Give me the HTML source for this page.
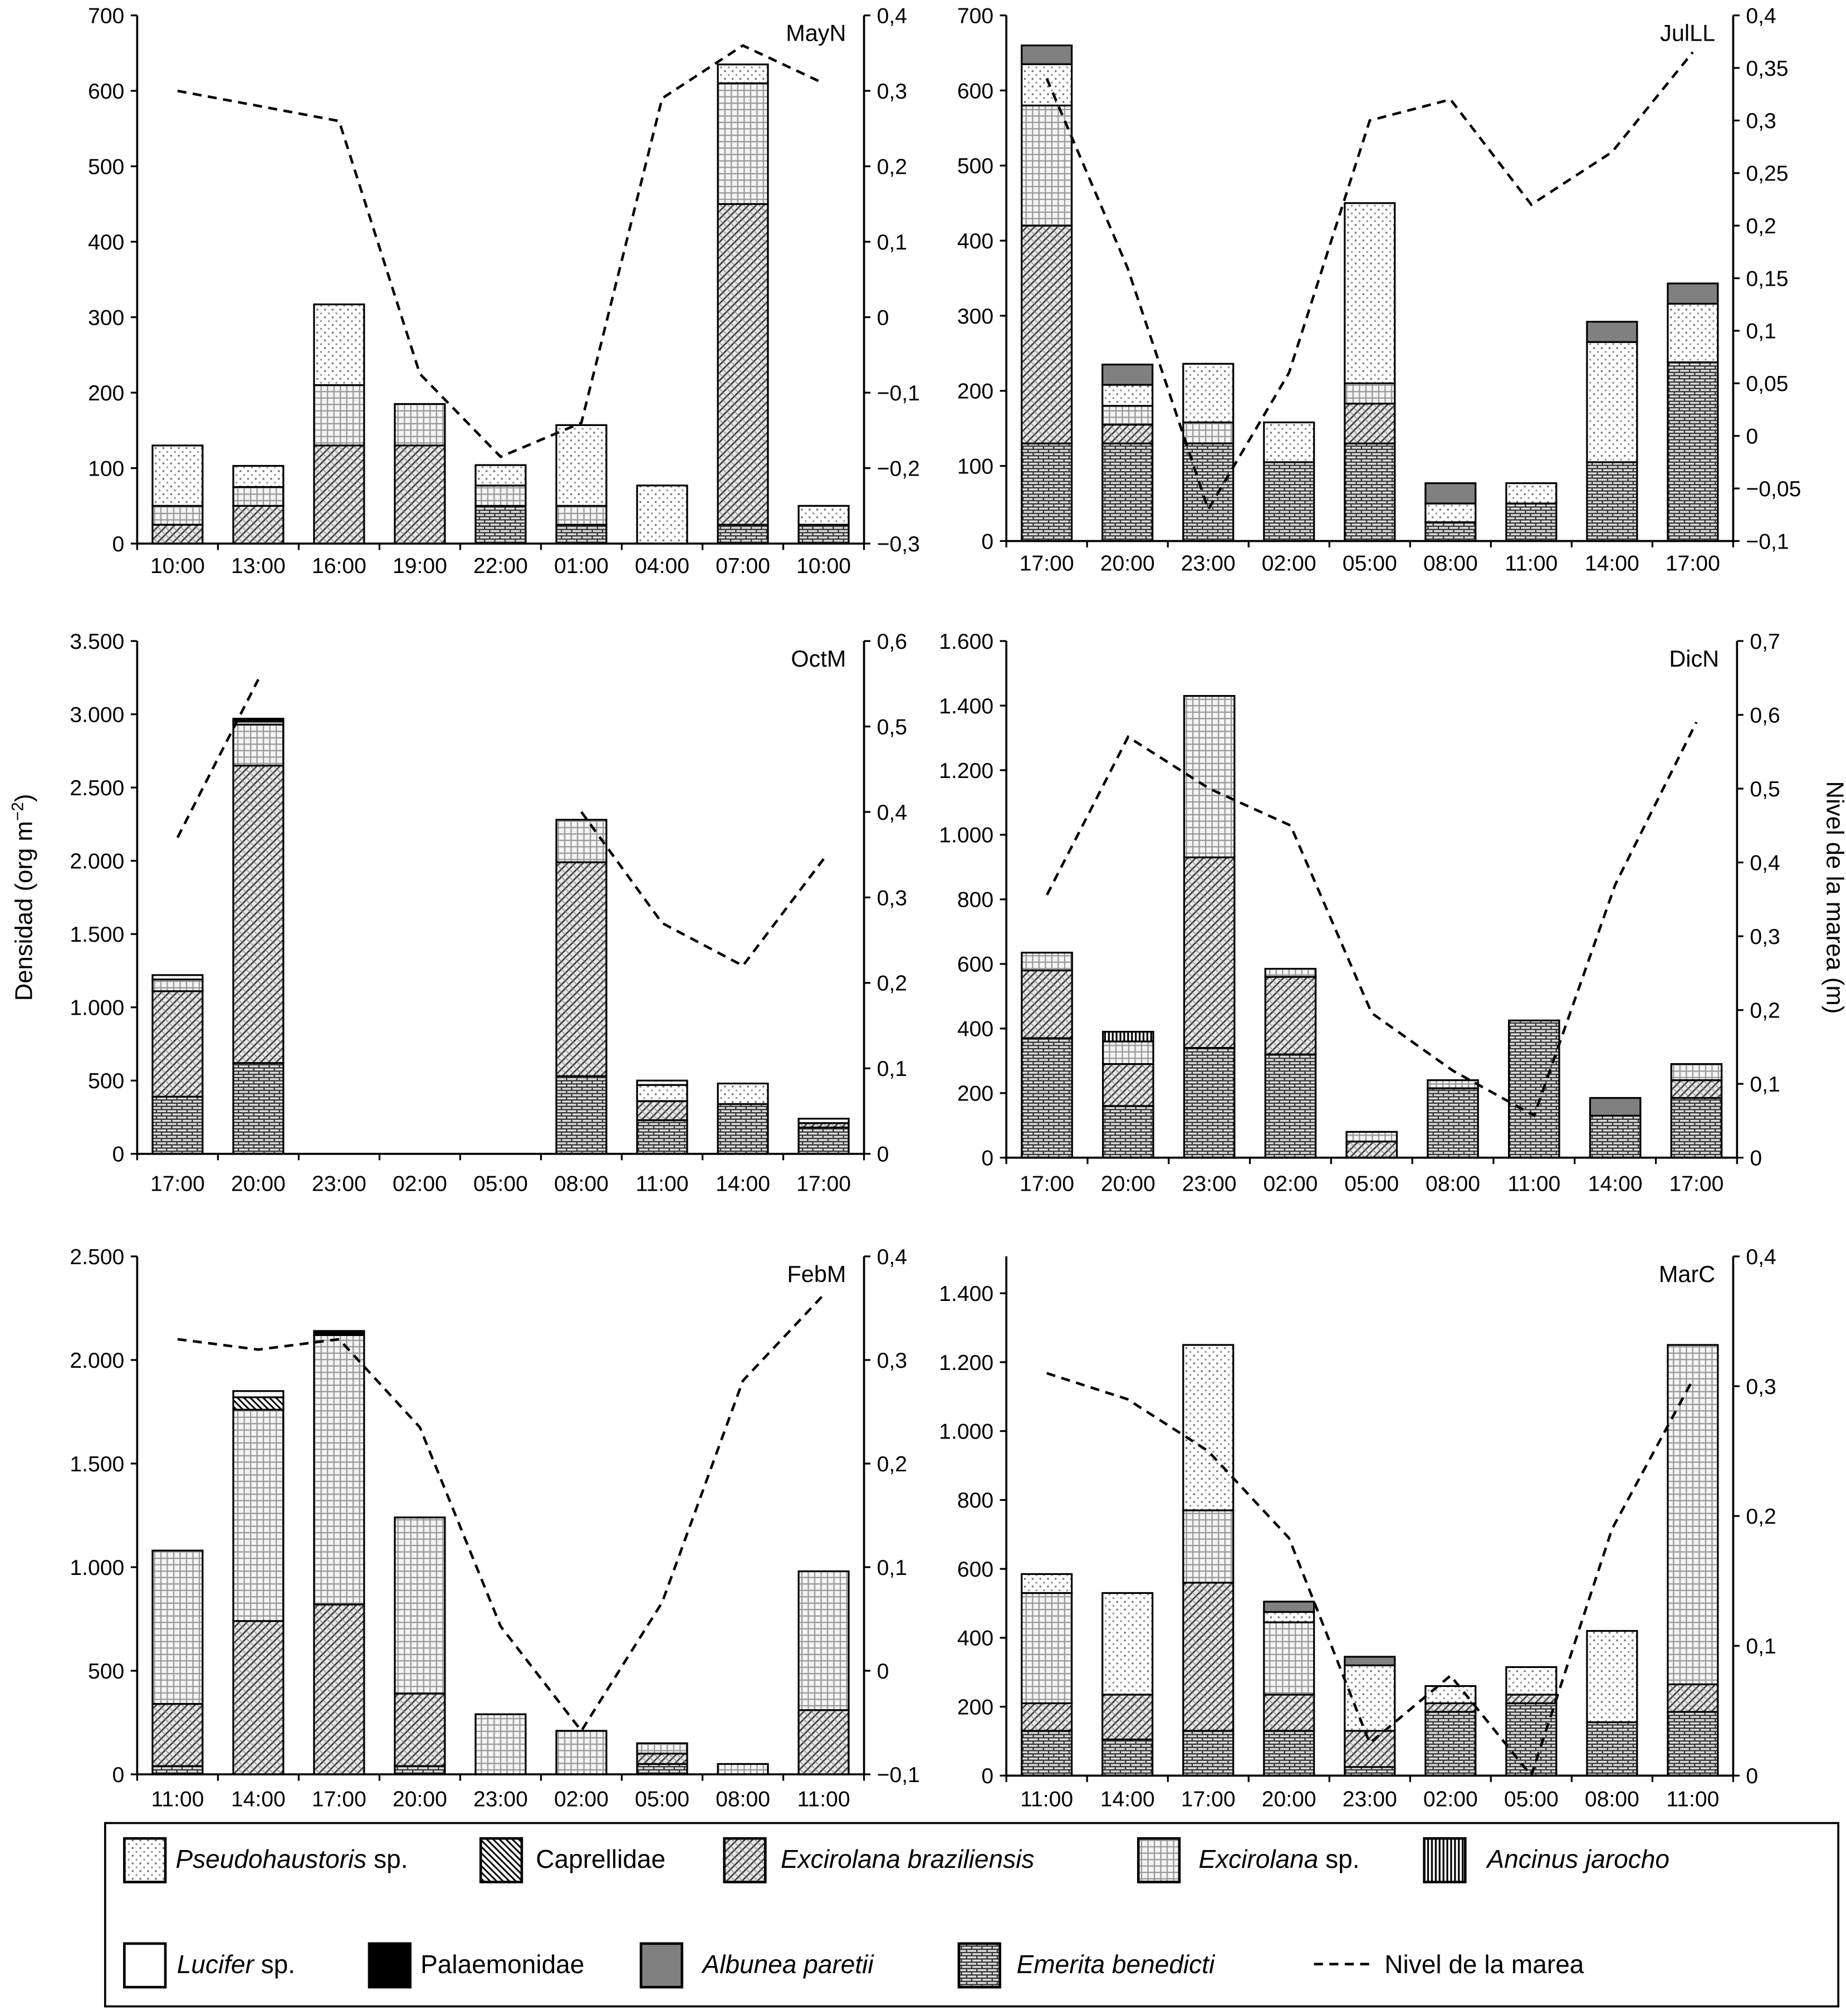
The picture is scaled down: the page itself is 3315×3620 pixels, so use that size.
<!DOCTYPE html>
<html><head><meta charset="utf-8">
<style>
html,body{margin:0;padding:0;background:#fff;}
svg{display:block;}
text{font-family:"Liberation Sans",sans-serif;fill:#000;}
</style></head>
<body>
<svg id="fig" xmlns="http://www.w3.org/2000/svg" width="3315" height="3620" viewBox="0 0 1440 1572.5">
<defs>
<pattern id="p-dots" width="6" height="6" patternUnits="userSpaceOnUse"><rect width="6" height="6" fill="#fff"/><circle cx="1.5" cy="1.5" r="0.8" fill="#777"/><circle cx="4.5" cy="4.5" r="0.8" fill="#999"/></pattern>
<pattern id="p-grid" width="5" height="5" patternUnits="userSpaceOnUse"><rect width="5" height="5" fill="#f4f4f4"/><path d="M0 0.5H5M0.5 0V5" stroke="#999" stroke-width="1"/></pattern>
<pattern id="p-diag" width="6" height="6" patternUnits="userSpaceOnUse"><rect width="6" height="6" fill="#e6e6e6"/><path d="M-1 7L7 -1M-1 1L1 -1M5 7L7 5" stroke="#333" stroke-width="1.1"/><path d="M0 0L6 6" stroke="#888" stroke-width="0.6"/></pattern>
<pattern id="p-brick" width="8" height="5" patternUnits="userSpaceOnUse"><rect width="8" height="5" fill="#ddd"/><path d="M0 0.5H8M0 3H8M2 0.5V3M6 3V5" stroke="#333" stroke-width="1"/></pattern>
<pattern id="p-capr" width="5" height="5" patternUnits="userSpaceOnUse"><rect width="5" height="5" fill="#fff"/><path d="M-1 -1L6 6M-1 4L1 6M4 -1L6 1" stroke="#000" stroke-width="1.3"/></pattern>
<pattern id="p-vert" width="3" height="3" patternUnits="userSpaceOnUse"><rect width="3" height="3" fill="#fff"/><path d="M1 0V3" stroke="#000" stroke-width="1.4"/></pattern>
</defs>
</svg>
<script>
// series order (bottom to top)
const speciesNames = ["Emerita benedicti","Excirolana braziliensis","Excirolana sp.","Pseudohaustoris sp.","Ancinus jarocho","Caprellidae","Lucifer sp.","Palaemonidae","Albunea paretii"];
const speciesKeys = ["emerita","exc-braz","exc-sp","pseudo","ancinus","caprel","lucifer","palaem","albunea"];

const mayCats = ["10:00","13:00","16:00","19:00","22:00","01:00","04:00","07:00","10:00"];
const mayVals = [
 [0,25,25,80,0,0,0,0,0],[0,50,25,28,0,0,0,0,0],[0,130,80,107,0,0,0,0,0],[0,130,55,0,0,0,0,0,0],
 [50,0,27,27,0,0,0,0,0],[25,0,25,107,0,0,0,0,0],[0,0,0,77,0,0,0,0,0],[25,425,160,25,0,0,0,0,0],[25,0,0,25,0,0,0,0,0]];
const mayTide = [0.30,0.28,0.26,-0.075,-0.185,-0.14,0.29,0.36,0.31];

const julCats = ["17:00","20:00","23:00","02:00","05:00","08:00","11:00","14:00","17:00"];
const julVals = [
 [130,290,160,55,0,0,0,0,25],[130,25,25,28,0,0,0,0,27],[130,0,28,78,0,0,0,0,0],[105,0,0,53,0,0,0,0,0],
 [130,53,27,240,0,0,0,0,0],[25,0,0,25,0,0,0,0,27],[50,0,0,27,0,0,0,0,0],[105,0,0,160,0,0,0,0,27],[238,0,0,78,0,0,0,0,27]];
const julTide = [0.34,0.16,-0.07,0.06,0.30,0.32,0.22,0.27,0.365];

const octCats = ["17:00","20:00","23:00","02:00","05:00","08:00","11:00","14:00","17:00"];
const octVals = [
 [390,720,80,0,0,0,30,0,0],[620,2030,280,0,0,0,20,20,0],[0,0,0,0,0,0,0,0,0],[0,0,0,0,0,0,0,0,0],[0,0,0,0,0,0,0,0,0],
 [530,1460,290,0,0,0,0,0,0],[230,130,0,110,0,0,30,0,0],[340,0,0,140,0,0,0,0,0],[180,30,0,0,0,0,30,0,0]];
const octTide = [0.37,0.555,null,null,null,0.40,0.27,0.22,0.345];

const dicCats = ["17:00","20:00","23:00","02:00","05:00","08:00","11:00","14:00","17:00"];
const dicVals = [
 [370,210,55,0,0,0,0,0,0],[160,130,70,0,30,0,0,0,0],[340,590,500,0,0,0,0,0,0],[320,240,25,0,0,0,0,0,0],
 [0,50,30,0,0,0,0,0,0],[215,0,25,0,0,0,0,0,0],[425,0,0,0,0,0,0,0,0],[130,0,0,0,0,0,0,0,55],[185,55,50,0,0,0,0,0,0]];
const dicTide = [0.356,0.57,0.50,0.45,0.196,0.118,0.057,0.37,0.59];

const febCats = ["11:00","14:00","17:00","20:00","23:00","02:00","05:00","08:00","11:00"];
const febVals = [
 [40,300,740,0,0,0,0,0,0],[0,740,1020,0,0,60,30,0,0],[0,820,1300,0,0,0,0,20,0],[40,350,850,0,0,0,0,0,0],
 [0,0,290,0,0,0,0,0,0],[0,0,210,0,0,0,0,0,0],[50,50,50,0,0,0,0,0,0],[0,0,50,0,0,0,0,0,0],[0,310,670,0,0,0,0,0,0]];
const febTide = [0.32,0.31,0.32,0.235,0.043,-0.058,0.066,0.28,0.363];

const marCats = ["11:00","14:00","17:00","20:00","23:00","02:00","05:00","08:00","11:00"];
const marVals = [
 [130,80,320,55,0,0,0,0,0],[105,130,0,295,0,0,0,0,0],[130,430,210,480,0,0,0,0,0],[130,105,210,30,0,0,0,0,30],
 [25,105,0,190,0,0,0,0,25],[185,25,0,50,0,0,0,0,0],[210,25,0,80,0,0,0,0,0],[155,0,0,265,0,0,0,0,0],[185,80,985,0,0,0,0,0,0]];
const marTide = [0.31,0.29,0.25,0.183,0.025,0.077,0.0,0.19,0.305];

const fills = ["url(#p-brick)","url(#p-diag)","url(#p-grid)","url(#p-dots)","url(#p-vert)","url(#p-capr)","#fff","#000","#808080"];

const svg = document.getElementById('fig');
const NS = "http://www.w3.org/2000/svg";
function mk(tag, attrs, parent){
  const e = document.createElementNS(NS, tag);
  for (const k in attrs) e.setAttribute(k, attrs[k]);
  (parent||svg).appendChild(e);
  return e;
}
function fmtL(v){ return v>=1000 ? Math.floor(v/1000)+"."+String(v%1000).padStart(3,"0") : String(v); }
function fmtR(v){ let s = (Math.round(Math.abs(v)*100)/100).toString().replace(".",","); if (Math.round(v*1000)===0) return "0"; return (v<0?"\u2212":"")+s; }

const panels = [
 {id:"mayn",title:"MayN",cats:mayCats,vals:mayVals,tide:mayTide,x0:107,x1:674,yT:12,yB:424,lmax:700,lstep:100,ltop:700,rmin:-0.3,rmax:0.4,rstep:0.1,ly:441},
 {id:"julll",title:"JulLL",cats:julCats,vals:julVals,tide:julTide,x0:785,x1:1352,yT:12,yB:422,lmax:700,lstep:100,ltop:700,rmin:-0.1,rmax:0.4,rstep:0.05,ly:439},
 {id:"octm",title:"OctM",cats:octCats,vals:octVals,tide:octTide,x0:107,x1:674,yT:500,yB:900,lmax:3500,lstep:500,ltop:3500,rmin:0,rmax:0.6,rstep:0.1,ly:923},
 {id:"dicn",title:"DicN",cats:dicCats,vals:dicVals,tide:dicTide,x0:785,x1:1355,yT:500,yB:903,lmax:1600,lstep:200,ltop:1600,rmin:0,rmax:0.7,rstep:0.1,ly:923},
 {id:"febm",title:"FebM",cats:febCats,vals:febVals,tide:febTide,x0:107,x1:674,yT:980,yB:1384,lmax:2500,lstep:500,ltop:2500,rmin:-0.1,rmax:0.4,rstep:0.1,ly:1403},
 {id:"marc",title:"MarC",cats:marCats,vals:marVals,tide:marTide,x0:785,x1:1352,yT:980,yB:1385,lmax:1507,lstep:200,ltop:1400,rmin:0,rmax:0.4,rstep:0.1,ly:1403}
];

panels.forEach(p=>{
  const g = mk('g',{});
  
  
  const yL = v => p.yB - v/p.lmax*(p.yB-p.yT);
  const yR = v => p.yB - (v-p.rmin)/(p.rmax-p.rmin)*(p.yB-p.yT);
  const band = (p.x1-p.x0)/p.cats.length;
  const xc = i => p.x0 + band*(i+0.5);
  const bw = band*0.62;
  // bars
  p.vals.forEach((row,i)=>{
    let acc = 0;
    row.forEach((v,s)=>{
      if (!v) return;
      const r = mk('rect',{x:xc(i)-bw/2,y:yL(acc+v),width:bw,height:yL(acc)-yL(acc+v),fill:fills[s],stroke:"#000","stroke-width":1.4},g);
      
      
      acc += v;
    });
  });
  // axes
  const ax = mk('path',{d:`M${p.x0} ${p.yT}V${p.yB}H${p.x1}M${p.x1} ${p.yT}V${p.yB}`,stroke:"#000","stroke-width":1.6,fill:"none"},g);
  
  
  for (let v=0; v<=p.ltop+0.001; v+=p.lstep){
    mk('line',{x1:p.x0-5,x2:p.x0,y1:yL(v),y2:yL(v),stroke:"#000","stroke-width":1.4},g);
    const t = mk('text',{x:p.x0-10,y:yL(v)+6,"text-anchor":"end","font-size":17},g);
    t.textContent = fmtL(v);
    
    
  }
  const nR = Math.round((p.rmax-p.rmin)/p.rstep);
  for (let k=0;k<=nR;k++){
    const v = p.rmin + k*p.rstep;
    mk('line',{x1:p.x1,x2:p.x1+5,y1:yR(v),y2:yR(v),stroke:"#000","stroke-width":1.4},g);
    const t = mk('text',{x:p.x1+10,y:yR(v)+6,"font-size":17},g);
    t.textContent = fmtR(v);
    
    
  }
  p.cats.forEach((c,i)=>{
    mk('line',{x1:p.x0+band*i,x2:p.x0+band*i,y1:p.yB,y2:p.yB+5,stroke:"#000","stroke-width":1.4},g);
    const t = mk('text',{x:xc(i),y:p.ly+6,"text-anchor":"middle","font-size":17},g);
    t.textContent = c;
    
    
  });
  mk('line',{x1:p.x1,x2:p.x1,y1:p.yB,y2:p.yB+5,stroke:"#000","stroke-width":1.4},g);
  // tide line
  let d = "", pen = false;
  p.tide.forEach((v,i)=>{
    if (v===null){ pen=false; return; }
    d += (pen?"L":"M")+xc(i).toFixed(1)+" "+yR(v).toFixed(1);
    pen = true;
  });
  const ln = mk('path',{d:d,fill:"none",stroke:"#000","stroke-width":2,"stroke-dasharray":"7 5"},g);
  
  
  const tt = mk('text',{x:p.x1-14,y:p.yT+20,"text-anchor":"end","font-size":18},g);
  tt.textContent = p.title;
  
  
});

// axis titles
const yl = mk('text',{x:0,y:0,"text-anchor":"middle","font-size":19,transform:"translate(25,700) rotate(-90)"});
yl.innerHTML = 'Densidad (org m<tspan dy="-7" font-size="13">\u22122</tspan><tspan dy="7">)</tspan>';


const yr = mk('text',{x:0,y:0,"text-anchor":"middle","font-size":19,transform:"translate(1425,700) rotate(90)"});
yr.textContent = 'Nivel de la marea (m)';



// legend
const lg = mk('g',{});


mk('rect',{x:82,y:1422,width:1352,height:143,fill:"#fff",stroke:"#000","stroke-width":1.6},lg);
const legItems = [
 {bx:97,tx:137,y:1450,fill:"url(#p-dots)",label:'<tspan font-style="italic">Pseudohaustoris</tspan> sp.',key:"pseudo"},
 {bx:375,tx:418,y:1450,fill:"url(#p-capr)",label:'Caprellidae',key:"caprel"},
 {bx:565,tx:609,y:1450,fill:"url(#p-diag)",label:'<tspan font-style="italic">Excirolana braziliensis</tspan>',key:"exc-braz"},
 {bx:888,tx:935,y:1450,fill:"url(#p-grid)",label:'<tspan font-style="italic">Excirolana</tspan> sp.',key:"exc-sp"},
 {bx:1111,tx:1160,y:1450,fill:"url(#p-vert)",label:'<tspan font-style="italic">Ancinus jarocho</tspan>',key:"ancinus"},
 {bx:97,tx:138,y:1532,fill:"#fff",label:'<tspan font-style="italic">Lucifer</tspan> sp.',key:"lucifer"},
 {bx:288,tx:328,y:1532,fill:"#000",label:'Palaemonidae',key:"palaem"},
 {bx:500,tx:548,y:1532,fill:"#808080",label:'<tspan font-style="italic">Albunea paretii</tspan>',key:"albunea"},
 {bx:748,tx:793,y:1532,fill:"url(#p-brick)",label:'<tspan font-style="italic">Emerita benedicti</tspan>',key:"emerita"}
];
legItems.forEach(it=>{
  const e = mk('g',{},lg);
  
  
  mk('rect',{x:it.bx,y:it.y-16,width:32,height:34,fill:it.fill,stroke:"#000","stroke-width":2},e);
  const t = mk('text',{x:it.tx,y:it.y+7,"font-size":20},e);
  t.innerHTML = it.label;
});
const le = mk('g',{},lg);


mk('line',{x1:1025,x2:1068,y1:1532,y2:1532,stroke:"#000","stroke-width":2,"stroke-dasharray":"7 5"},le);
const lt = mk('text',{x:1080,y:1539,"font-size":20},le);
lt.textContent = 'Nivel de la marea';
</script>
</body></html>
